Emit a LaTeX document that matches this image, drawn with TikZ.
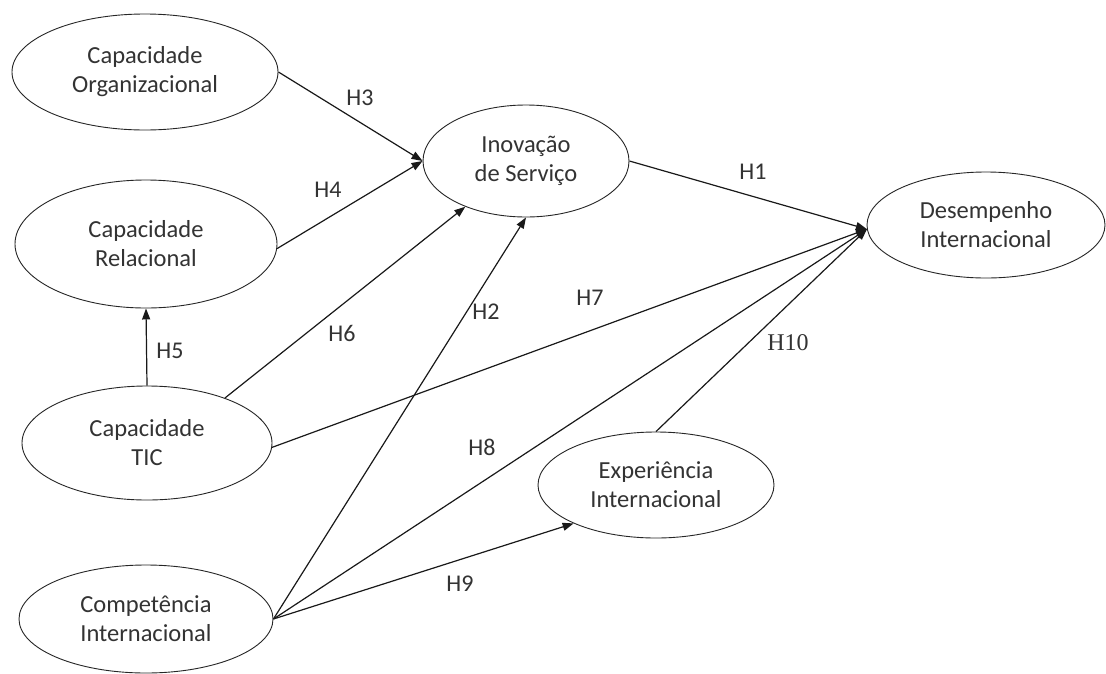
\documentclass[tikz,border=0pt]{standalone}
\usepackage{fontspec}
\setmainfont{Carlito}
\newfontfamily\serifnum{Liberation Serif}
\usetikzlibrary{shapes.geometric,arrows.meta}
\begin{document}
\begin{tikzpicture}[x=1pt,y=-1pt,
  construct/.style={ellipse,draw=black!85,line width=0.9pt,inner sep=0pt,
    align=center,text=black!80,font=\fontsize{24.5}{29}\selectfont},
  link/.style={line width=1.2pt,draw=black!90},
  arr/.style={link,-{Triangle[length=11pt,width=8pt]}},
  hyp/.style={text=black!80,font=\fontsize{24}{28}\selectfont,inner sep=0pt}]
\useasboundingbox (0,0) rectangle (1106,673);
\fill[white] (0,0) rectangle (1106,673);

% constructs
\node[construct,minimum width=266pt,minimum height=116pt] (org) at (145,72) {Capacidade\\Organizacional};
\node[construct,minimum width=262pt,minimum height=128pt] (rel) at (146,244) {Capacidade\\Relacional};
\node[construct,minimum width=250pt,minimum height=114pt] (tic) at (147,443) {Capacidade\\TIC};
\node[construct,minimum width=254pt,minimum height=108pt] (com) at (146,619) {Competência\\Internacional};
\node[construct,minimum width=206pt,minimum height=112pt] (ino) at (526,161) {Inovação\\de Serviço};
\node[construct,minimum width=238pt,minimum height=106pt] (des) at (986,225) {Desempenho\\Internacional};
\node[construct,minimum width=236pt,minimum height=106pt] (exp) at (656,485) {Experiência\\Internacional};

% hypothesised paths
\draw[arr] (org.east) -- (ino.west);
\draw[arr] (rel.-2) -- (ino.west);
\draw[arr] (tic.north) -- (rel.south);
\draw[arr] (tic.30) -- (ino.217);
\draw[arr] (com.east) -- (ino.south);
\draw[arr] (ino.east) -- (des.182);
\draw[arr] (tic.-2) -- (des.182);
\draw[arr] (com.east) -- (des.182);
\draw[arr] (exp.north) -- (des.182);
\draw[arr] (com.east) -- (exp.205);

% path labels
\node[hyp] (h1) at (753,172) {H1};
\node[hyp] (h2) at (486,312) {H2};
\node[hyp] (h3) at (360,98) {H3};
\node[hyp] (h4) at (328,190) {H4};
\node[hyp] (h5) at (170,351) {H5};
\node[hyp] (h6) at (342,333) {H6};
\node[hyp] (h7) at (590,298) {H7};
\node[hyp] (h8) at (482,447) {H8};
\node[hyp] (h9) at (460,584) {H9};
\node[hyp,font=\serifnum\fontsize{24}{28}\selectfont] (h10) at (788,343) {H10};
\end{tikzpicture}
\end{document}
